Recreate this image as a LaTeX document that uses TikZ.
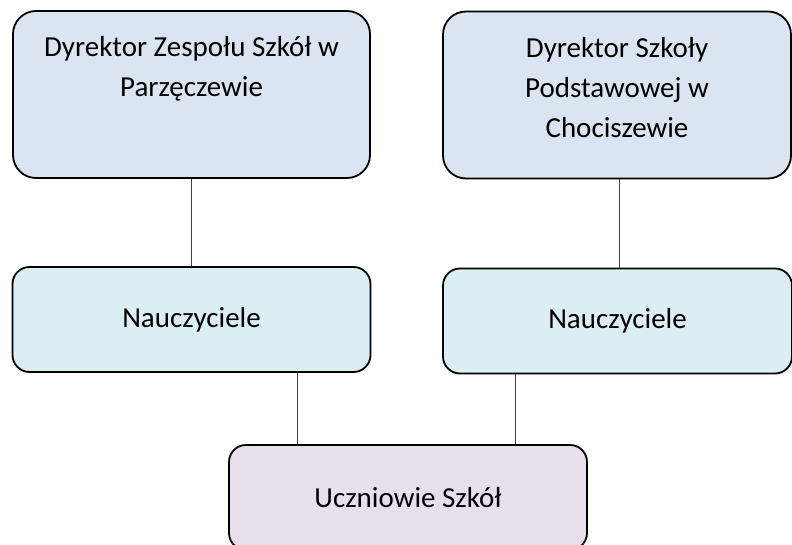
\documentclass[tikz,border=0pt]{standalone}
\usepackage{fontspec}
\setmainfont{Carlito}
\definecolor{dyrfill}{HTML}{DBE5F1}
\definecolor{naufill}{HTML}{DAEEF3}
\definecolor{uczfill}{HTML}{E5E0EC}
\begin{document}
\begin{tikzpicture}[x=0.5pt,y=-0.5pt,
    every node/.style={font=\fontsize{14.5}{20}\selectfont},
    dyrbox/.style={draw=black,line width=0.9pt,fill=dyrfill,rounded corners=11.5pt,
      inner xsep=4pt,inner ysep=9pt},
    naubox/.style={draw=black,line width=0.9pt,fill=naufill,rounded corners=8.5pt,
      minimum height=52.5pt},
    uczbox/.style={draw=black,line width=0.9pt,fill=uczfill,rounded corners=8.5pt,
      minimum width=179pt,minimum height=52.5pt},
    link/.style={draw=black!75,line width=0.5pt}]
  \useasboundingbox (0,0) rectangle (792,545);
  % dyrektorzy
  \node[dyrbox] (dzs) at (191.5,94.5)
    {\parbox[c][65.5pt][t]{170.5pt}{\centering\strut Dyrektor Zespołu Szkół w\\ Parzęczewie}};
  \node[dyrbox] (dsp) at (617,95)
    {\parbox[c][65.5pt][t]{166pt}{\centering\strut Dyrektor Szkoły\\ Podstawowej w\\ Chociszewie}};
  % nauczyciele
  \node[naubox,minimum width=179pt] (nzs) at (191.5,319.5) {Nauczyciele};
  \node[naubox,minimum width=174.5pt] (nsp) at (617.5,321) {Nauczyciele};
  % uczniowie
  \node[uczbox] (ucz) at (408,497.5) {Uczniowie Szkół};
  \coordinate (ul) at ([xshift=-55.5pt]ucz.north);
  \coordinate (ur) at ([xshift=53.5pt]ucz.north);
  \draw[link] (dzs) -- (nzs);
  \draw[link] (dsp.south -| 619,0) -- (nsp.north -| 619,0);
  \draw[link] (nzs.south -| ul) -- (ul);
  \draw[link] (nsp.south -| ur) -- (ur);
\end{tikzpicture}
\end{document}
